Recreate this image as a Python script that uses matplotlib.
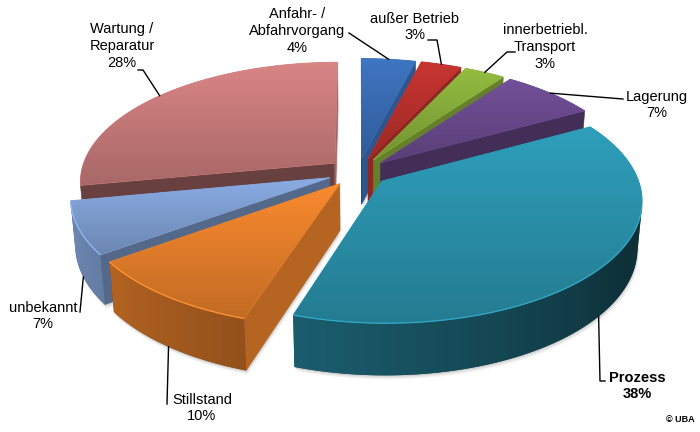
import numpy as np
import matplotlib
matplotlib.use('Agg')
import matplotlib.pyplot as plt
from matplotlib.patches import Polygon
from matplotlib.colors import to_rgb

labels = ['Anfahr- /\nAbfahrvorgang', 'außer Betrieb', 'innerbetriebl.\nTransport',
          'Lagerung', 'Prozess', 'Stillstand', 'unbekannt', 'Wartung /\nReparatur']
shares = [4, 3, 3, 7, 38, 10, 7, 28]
colors = ['#3a6db4', '#b9312d', '#88ae3b', '#6a4a8d', '#2b93ad', '#e7802b', '#80a0d3', '#c97c7b']

# label block centres and the elbow points of the leader lines (pixels)
label_pos = [(297, 31), (415, 27), (545, 47), (657, 105), (637, 386), (202, 408), (43, 316), (122, 46)]
leader_pts = [[(349, 33)], [(428, 40), (437, 40)], [(515, 52), (507, 52)], [(623, 99)],
              [(605, 381), (600, 381)], [(167, 404)], [(80, 312)], [(138, 70), (143, 70)]]

# projection of the tilted pie
S = 254.0
cx, cy = 358.0, 172.0
D = 6.0
sin_e = 0.465
cos_e = np.sqrt(1 - sin_e ** 2)
h = 0.21
explode = 0.12
cam = np.array([0.0, -D * cos_e, D * sin_e])


def proj(X, Y, Z):
    w = D + Y * cos_e - Z * sin_e
    k = S * D / w
    return cx + X * k, cy - (Y * sin_e + Z * cos_e) * k


def facing(p, n):
    return np.dot(np.asarray(p) - cam, n) < 0


def shade(c, f):
    return tuple(np.clip(np.array(to_rgb(c)) * f, 0, 1))


def side_factor(deg):
    return np.clip(0.33 + 0.45 * (deg - 120) / 114, 0.33, 0.84)


fig = plt.figure(figsize=(7, 4.32), dpi=100)
ax = fig.add_axes([0, 0, 1, 1])
ax.axis('off')

bounds = np.concatenate([[0], np.cumsum(shares)]) / sum(shares) * 360.0

slices = []
for i in range(len(shares)):
    a0, a1 = bounds[i], bounds[i + 1]
    mid = np.deg2rad((a0 + a1) / 2)
    ox, oy = explode * np.sin(mid), explode * np.cos(mid)
    slices.append((i, a0, a1, mid, ox, oy))

# soft shadow under the slices
for i, a0, a1, mid, ox, oy in slices:
    th = np.deg2rad(np.linspace(a0, a1, 80))
    base = [proj(ox, oy, -h)] + [proj(ox + np.sin(t), oy + np.cos(t), -h) for t in th]
    for k, a in ((4, 0.10), (2.5, 0.14), (1.2, 0.18)):
        ax.add_patch(Polygon([(x + k * 0.4, y + k) for x, y in base], closed=True,
                             fc='#808080', ec='none', alpha=a, zorder=0.5))

# far slices first
order = sorted(slices, key=lambda s: -np.cos(s[3]))

z = 1.0
for i, a0, a1, mid, ox, oy in order:
    col = colors[i]
    deg = np.linspace(a0, a1, max(2 * int(a1 - a0) + 2, 4))
    th = np.deg2rad(deg)
    rx, ry = ox + np.sin(th), oy + np.cos(th)

    # radial faces
    for a, sgn in ((a0, -1), (a1, 1)):
        ar = np.deg2rad(a)
        n = np.array([sgn * np.cos(ar), -sgn * np.sin(ar), 0])
        ex, ey = ox + np.sin(ar), oy + np.cos(ar)
        if facing((ox, oy, -h / 2), n):
            pts = [proj(ox, oy, 0), proj(ex, ey, 0), proj(ex, ey, -h), proj(ox, oy, -h)]
            f = 0.45 + 0.35 * max(0, n[0])
            ax.add_patch(Polygon(pts, closed=True, fc=shade(col, f), ec=shade(col, f),
                                 lw=0.4, zorder=z))

    # outer side, one polygon with a horizontal gradient
    vis = np.array([facing((x, y, -h / 2), np.array([np.sin(t), np.cos(t), 0]))
                    for x, y, t in zip(rx, ry, th)])
    if vis.sum() >= 2:
        idx = np.where(vis)[0]
        tp = [proj(rx[j], ry[j], 0) for j in idx]
        bp = [proj(rx[j], ry[j], -h) for j in idx]
        side = Polygon(tp + bp[::-1], closed=True, fc=shade(col, 0.5), ec='none', zorder=z)
        ax.add_patch(side)
        sx = np.array([p[0] for p in tp])
        fs = side_factor(deg[idx])
        srt = np.argsort(sx)
        xs = [p[0] for p in tp + bp]
        ys = [p[1] for p in tp + bp]
        cols = np.linspace(min(xs), max(xs), 200)
        fcol = np.interp(cols, sx[srt], fs[srt])
        img = fcol[None, :, None] * np.array(to_rgb(col))[None, None, :]
        im = ax.imshow(np.clip(img, 0, 1), extent=(min(xs) - 1, max(xs) + 1, max(ys) + 1, min(ys) - 1),
                       aspect='auto', interpolation='bilinear', zorder=z)
        im.set_clip_path(side)
        ax.plot([p[0] for p in tp], [p[1] for p in tp], color=shade(col, 1.15), lw=0.9,
                zorder=z + 0.2, solid_capstyle='butt')

    # top face with a soft vertical gradient
    top = [proj(ox, oy, 0)] + [proj(x, y, 0) for x, y in zip(rx, ry)]
    poly = Polygon(top, closed=True, fc=col, ec=shade(col, 1.05), lw=0.6, zorder=z + 0.1)
    ax.add_patch(poly)
    xs, ys = zip(*top)
    grad = np.linspace(1.08, 0.84, 64)[:, None, None] * np.array(to_rgb(col))[None, None, :]
    im = ax.imshow(np.clip(grad, 0, 1), extent=(min(xs), max(xs), max(ys), min(ys)),
                   aspect='auto', interpolation='bilinear', zorder=z + 0.1)
    im.set_clip_path(poly)
    z += 1

# labels and leader lines
for i, a0, a1, mid, ox, oy in slices:
    front = np.cos(mid) < 0
    ax_pt = proj(ox + np.sin(mid), oy + np.cos(mid), -h if front else 0)
    pts = leader_pts[i] + [ax_pt]
    ax.plot([p[0] for p in pts], [p[1] for p in pts], color='black', lw=1.0, zorder=50)
    bold = labels[i] == 'Prozess'
    ax.text(label_pos[i][0], label_pos[i][1], f'{labels[i]}\n{shares[i]}%',
            ha='center', va='center', multialignment='center', linespacing=1.25,
            fontsize=10.5, family='Liberation Sans', fontweight='bold' if bold else 'normal',
            zorder=51)

ax.text(695, 420, '© UBA', ha='right', va='center', fontsize=6.5, fontweight='bold',
        family='Liberation Sans')

ax.set_xlim(0, 700)
ax.set_ylim(432, 0)
fig.savefig('out.png', dpi=100)
